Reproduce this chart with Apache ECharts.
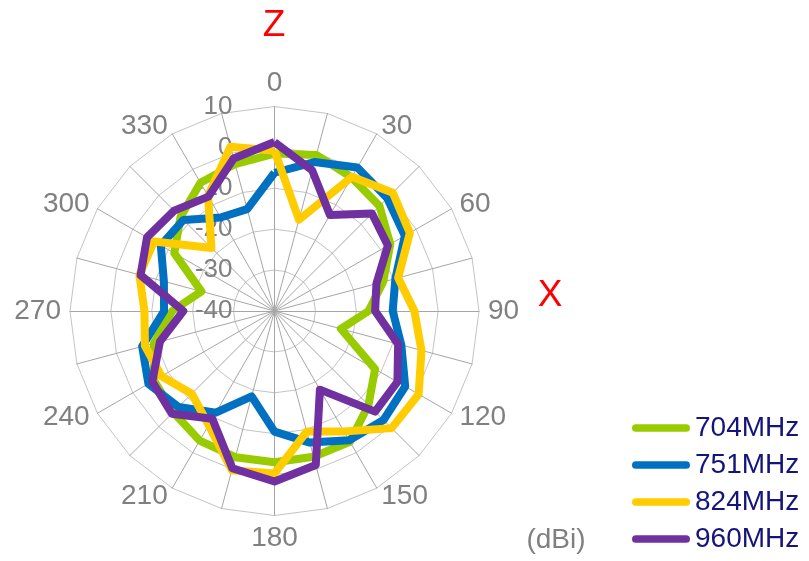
<!DOCTYPE html>
<html><head><meta charset="utf-8">
<script src="https://cdn.jsdelivr.net/npm/echarts@6/dist/echarts.min.js"></script>
<style>html,body{margin:0;padding:0;background:#fff}#c{width:809px;height:561px}</style>
</head><body><div id="c"></div>
<script>
// angles (degrees, clockwise from top) and their labels
const angles = [0,15,30,45,60,75,90,105,120,135,150,165,180,195,210,225,240,255,270,285,300,315,330,345];
const angleLabels = ['0','','30','','60','','90','','120','','150','','180','','210','','240','','270','','300','','330',''];
const radialMin = -40;
const radialMax = 10;
const radialSplits = 5;
const seriesNames = ['704MHz','751MHz','824MHz','960MHz'];
const seriesColors = ['#99CC00','#0070C0','#FFCC00','#7030A0'];
// gain (dBi) per angle, in angle order
const gain704 = [-1.5,-0.5,-2.3,-3.7,-7.3,-12.5,-17,-23.2,-11.6,-7.5,-3.1,-3.1,-3,-3,-3.4,-5,-6,-9.5,-15,-21.5,-11.7,-7.5,-3.8,-2.8];
const gain751 = [-6.2,-2.3,0.5,-1,-3.2,-9.4,-11.1,-7.9,-3.1,-2.3,-3.5,-6.7,-10.5,-18.4,-11.3,-6.8,-4.4,-6.5,-13,-12,-7.9,-8.5,-13.6,-14.2];
const gain824 = [-0.8,-16.9,-2.1,0.9,-1.8,-8.7,-5.8,-2.8,0.7,0.5,-6,-9.5,-0.3,0.3,-7.8,-11.4,-8.1,-7.2,-8.2,-5.8,-6,-18.2,-7.5,1.6];
const gain960 = [1.3,-4.4,-12.9,-6.3,-8,-14.2,-15.4,-8.7,-5.3,-5.2,-17.8,-1,1.7,-0.2,-9.6,-4.5,-5.5,-11,-17.7,-6.1,-4,-5.3,-7.7,-1.4];
const allGains = [gain704, gain751, gain824, gain960];

// radar goes counter-clockwise; reorder so angles increase clockwise
const order = angles.map((a, i) => (angles.length - i) % angles.length);

const FONT = '"Liberation Sans", Arial, sans-serif';
const indicator = order.map((k, j) => ({
  name: angleLabels[k], min: radialMin, max: radialMax,
  axisLabel: j === 0 ? {show: true, color: '#808080', fontSize: 26, fontFamily: FONT, margin: 42} : {show: false}
}));

const chart = echarts.init(document.getElementById('c'), null, {renderer: 'canvas'});
chart.setOption({
  animation: false,
  backgroundColor: '#ffffff',
  radar: {
    center: [274.5, 311],
    radius: 204.5,
    startAngle: 90,
    shape: 'polygon',
    splitNumber: radialSplits,
    indicator: indicator,
    nameGap: 9,
    axisName: {color: '#808080', fontSize: 28, fontFamily: FONT},
    axisLine: {lineStyle: {color: '#a6a6a6', width: 1}},
    splitLine: {lineStyle: {color: '#c4c4c4', width: 1}},
    splitArea: {show: false},
    axisTick: {show: false},
    axisLabel: {show: false}
  },
  legend: {
    orient: 'vertical', left: 632, top: 414, height: 300, padding: 0,
    itemWidth: 58, itemHeight: 8, itemGap: 9,
    icon: 'path://M4,0L56,0A4,4,0,0,1,56,8L4,8A4,4,0,0,1,4,0Z',
    itemStyle: {borderWidth: 0},
    textStyle: {color: '#14147a', fontSize: 28, fontFamily: FONT},
    selectedMode: false,
    data: seriesNames
  },
  graphic: [
    {type: 'text', x: 274, y: 26, style: {text: 'Z', fill: '#FF0000', fontSize: 37, fontFamily: FONT, align: 'center', verticalAlign: 'middle'}},
    {type: 'text', x: 550, y: 296, style: {text: 'X', fill: '#FF0000', fontSize: 37, fontFamily: FONT, align: 'center', verticalAlign: 'middle'}},
    {type: 'text', x: 556, y: 540, style: {text: '(dBi)', fill: '#808080', fontSize: 28, fontFamily: FONT, align: 'center', verticalAlign: 'middle'}}
  ],
  series: [{
    type: 'radar',
    symbol: 'none',
    silent: true,
    data: seriesNames.map((n, i) => ({
      name: n,
      value: order.map(k => allGains[i][k]),
      lineStyle: {color: seriesColors[i], width: 8},
      itemStyle: {color: seriesColors[i]}
    }))
  }]
});
</script></body></html>
